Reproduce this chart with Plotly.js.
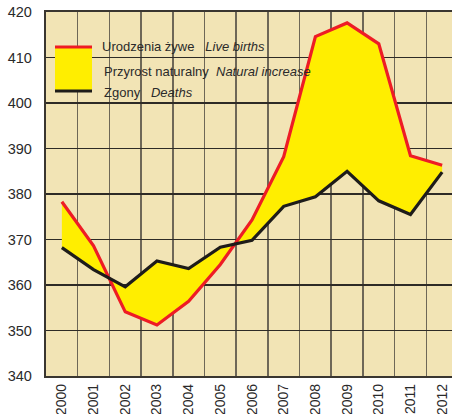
<!DOCTYPE html>
<html>
<head>
<meta charset="utf-8">
<script src="https://cdn.plot.ly/plotly-3.0.1.min.js"></script>
<style>html,body{margin:0;padding:0;background:#fff;}#chart{width:452px;height:414px;}</style>
</head>
<body>
<div id="chart"></div>
<script>
var years = ["2000","2001","2002","2003","2004","2005","2006","2007","2008","2009","2010","2011","2012"];
var liveBirths = [378.3, 368.6, 354.1, 351.2, 356.4, 364.5, 374.3, 388.2, 414.6, 417.6, 413.0, 388.4, 386.3];
var deaths = [368.2, 363.4, 359.6, 365.3, 363.6, 368.3, 369.8, 377.3, 379.4, 385.0, 378.5, 375.5, 384.8];
var yTicks = [340, 350, 360, 370, 380, 390, 400, 410, 420];
var legendLabels = [
  "Urodzenia żywe   <i>Live births</i>",
  "Przyrost naturalny  <i>Natural increase</i>",
  "Zgony   <i>Deaths</i>"
];

var FONT = "'Liberation Sans', Arial, sans-serif";
var BG = "#F2E4B5";
var YELLOW = "#FFEE00";
var RED = "#EE1C25";
var BLACK = "#1E1C1A";
var TXT = "#2a2a2a";

var traces = [
  {x: years, y: liveBirths, type: "scatter", mode: "lines",
   line: {color: RED, width: 3.2}, hoverinfo: "skip", showlegend: false},
  {x: years, y: deaths, type: "scatter", mode: "lines",
   fill: "tonexty", fillcolor: YELLOW,
   line: {color: BLACK, width: 3.2}, hoverinfo: "skip", showlegend: false}
];

var L = 46, R = 452, T = 12, B = 376;
function px(x) { return (x - L) / (R - L); }
function py(y) { return (B - y) / (B - T); }

var layout = {
  width: 452, height: 414,
  margin: {l: L, r: 452 - R, t: T, b: 414 - B, pad: 0},
  paper_bgcolor: "#ffffff",
  plot_bgcolor: BG,
  showlegend: false,
  font: {family: FONT, size: 14, color: TXT},
  xaxis: {
    type: "category",
    range: [-0.5, 12.31],
    tickson: "boundaries",
    showgrid: true, gridcolor: "#6e6757", gridwidth: 1.6,
    showline: true, linecolor: "#3a3630", linewidth: 2.4, mirror: true,
    ticks: "outside", ticklen: 6, tickcolor: "rgba(0,0,0,0)",
    tickangle: -90,
    tickfont: {family: FONT, size: 14, color: TXT},
    fixedrange: true
  },
  yaxis: {
    range: [340, 420],
    tickvals: yTicks,
    ticktext: yTicks.map(String),
    showgrid: true, gridcolor: "#2e2b26", gridwidth: 1.3,
    zeroline: false,
    showline: true, linecolor: "#3a3630", linewidth: 2.2,
    ticks: "outside", ticklen: 9, tickcolor: "rgba(0,0,0,0)",
    tickfont: {family: FONT, size: 14.5, color: TXT},
    fixedrange: true
  },
  shapes: [
    {type: "rect", xref: "paper", yref: "paper", layer: "between",
     x0: px(49), x1: px(312), y0: py(110), y1: py(23),
     fillcolor: BG, line: {width: 0}},
    {type: "rect", xref: "paper", yref: "paper", layer: "above",
     x0: px(55), x1: px(92), y0: py(91), y1: py(47),
     fillcolor: YELLOW, line: {width: 0}},
    {type: "line", xref: "paper", yref: "paper", layer: "above",
     x0: px(55), x1: px(92), y0: py(47), y1: py(47),
     line: {color: RED, width: 3.2}},
    {type: "line", xref: "paper", yref: "paper", layer: "above",
     x0: px(55), x1: px(92), y0: py(91), y1: py(91),
     line: {color: BLACK, width: 3.2}}
  ],
  annotations: [
    {xref: "paper", yref: "paper", x: px(100), y: py(46), xanchor: "left", yanchor: "middle",
     text: legendLabels[0], showarrow: false, font: {family: FONT, size: 13, color: TXT}},
    {xref: "paper", yref: "paper", x: px(102), y: py(71), xanchor: "left", yanchor: "middle",
     text: legendLabels[1], showarrow: false, font: {family: FONT, size: 13, color: TXT}},
    {xref: "paper", yref: "paper", x: px(102), y: py(92), xanchor: "left", yanchor: "middle",
     text: legendLabels[2], showarrow: false, font: {family: FONT, size: 13, color: TXT}}
  ]
};

Plotly.newPlot("chart", traces, layout, {staticPlot: true, displayModeBar: false});
</script>
</body>
</html>
